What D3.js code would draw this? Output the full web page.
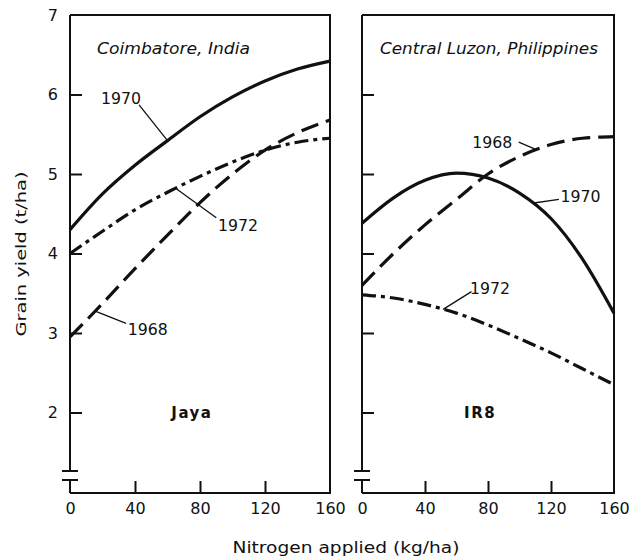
<!DOCTYPE html>
<html>
<head>
<meta charset="utf-8">
<script src="https://cdn.jsdelivr.net/npm/d3@7"></script>
<style>
  html, body { margin: 0; padding: 0; background: #fff; }
  svg { display: block; }
  text { font-family: "DejaVu Sans", "Liberation Sans", sans-serif; fill: #111; }
</style>
</head>
<body>
<svg id="chart" width="629" height="557"></svg>
<script>
// Nitrogen rates (kg/ha) at which each response curve is read
const nitrogen = [0, 20, 40, 60, 80, 100, 120, 140, 160];

// Grain yield (t/ha), Jaya at Coimbatore, India
const jaya1968 = [2.95, 3.37, 3.81, 4.23, 4.64, 5.00, 5.30, 5.52, 5.68];
const jaya1970 = [4.30, 4.75, 5.11, 5.42, 5.72, 5.97, 6.17, 6.32, 6.42];
const jaya1972 = [4.00, 4.28, 4.55, 4.77, 4.97, 5.15, 5.30, 5.40, 5.45];

// Grain yield (t/ha), IR8 in Central Luzon, Philippines
const ir8_1968 = [3.60, 4.00, 4.36, 4.68, 5.00, 5.22, 5.37, 5.45, 5.47];
const ir8_1970 = [4.38, 4.70, 4.92, 5.01, 4.95, 4.76, 4.44, 3.93, 3.25];
const ir8_1972 = [3.48, 3.44, 3.36, 3.25, 3.10, 2.93, 2.75, 2.55, 2.35];

// Axis ticks
const xTicks = [0, 40, 80, 120, 160];
const yTicks = [2, 3, 4, 5, 6, 7];

const svg = d3.select("#chart");
const plotTop = 15, plotBottom = 492;
const y = d3.scaleLinear().domain([1, 7]).range([plotBottom, plotTop]);

const dashFor = { "1968": "18 8", "1970": null, "1972": "14 5 4 5" };

const panels = [
  {
    x0: 70, x1: 330, title: "Coimbatore, India", titleX: 97, titleLen: 153,
    variety: "Jaya", showYLabels: true,
    series: [
      { year: "1968", values: jaya1968 },
      { year: "1970", values: jaya1970 },
      { year: "1972", values: jaya1972 }
    ],
    // year label placement: text anchor (N, yield) and leader target N on the curve
    notes: [
      { year: "1970", tx: 19, ty: 5.95, from: [42.5, 5.87], to: 60 },
      { year: "1972", tx: 91, ty: 4.36, from: [90, 4.45], to: 65 },
      { year: "1968", tx: 35.5, ty: 3.05, from: [34.5, 3.12], to: 15.5 }
    ]
  },
  {
    x0: 362, x1: 614, title: "Central Luzon, Philippines", titleX: 380, titleLen: 218,
    variety: "IR8", showYLabels: false,
    series: [
      { year: "1968", values: ir8_1968 },
      { year: "1970", values: ir8_1970 },
      { year: "1972", values: ir8_1972 }
    ],
    notes: [
      { year: "1968", tx: 70, ty: 5.40, from: [99.5, 5.40], to: 111 },
      { year: "1970", tx: 126, ty: 4.72, from: [125, 4.68], to: 108 },
      { year: "1972", tx: 68.5, ty: 3.56, from: [69.5, 3.52], to: 51.5 }
    ]
  }
];

panels.forEach(p => {
  const x = d3.scaleLinear().domain([0, 160]).range([p.x0, p.x1]);
  const g = svg.append("g");

  // frame: top, right and bottom edges
  g.append("path")
    .attr("d", `M${p.x0},${plotTop}H${p.x1}V${plotBottom + 1}H${p.x0}`)
    .attr("fill", "none").attr("stroke", "#111").attr("stroke-width", 2);

  // left axis line with a scale break near the origin
  const brk1 = 471, brk2 = 480;
  g.append("path")
    .attr("d", `M${p.x0},${plotTop}V${brk1}M${p.x0},${brk2}V${plotBottom + 1}`)
    .attr("fill", "none").attr("stroke", "#111").attr("stroke-width", 2);
  g.append("path")
    .attr("d", `M${p.x0 - 8},${brk1}h16M${p.x0 - 8},${brk2}h16`)
    .attr("fill", "none").attr("stroke", "#111").attr("stroke-width", 2);

  // y ticks (inward)
  const yAxis = d3.axisLeft(y).tickValues(yTicks)
    .tickSizeInner(-12).tickSizeOuter(0).tickPadding(12)
    .tickFormat(p.showYLabels ? d3.format("d") : () => "");
  const ya = g.append("g").attr("transform", `translate(${p.x0},0)`).call(yAxis);
  ya.select(".domain").remove();
  ya.selectAll(".tick line").attr("stroke", "#111").attr("stroke-width", 2);
  ya.selectAll(".tick").filter(d => d === 7).select("line").remove();
  ya.selectAll("text").attr("font-size", 16).attr("font-family", "DejaVu Sans").attr("fill", "#111");

  // x ticks (inward)
  const xAxis = d3.axisBottom(x).tickValues(xTicks)
    .tickSizeInner(-12).tickSizeOuter(0).tickPadding(10)
    .tickFormat(d3.format("d"));
  const xa = g.append("g").attr("transform", `translate(0,${plotBottom + 1})`).call(xAxis);
  xa.select(".domain").remove();
  xa.selectAll(".tick line").attr("stroke", "#111").attr("stroke-width", 2);
  xa.selectAll(".tick").filter(d => d === 0 || d === 160).select("line").remove();
  xa.selectAll("text").attr("font-size", 16).attr("font-family", "DejaVu Sans").attr("fill", "#111");

  // response curves
  const line = d3.line()
    .x((d, i) => x(nitrogen[i]))
    .y(d => y(d))
    .curve(d3.curveMonotoneX);
  p.series.forEach(s => {
    g.append("path")
      .datum(s.values)
      .attr("d", line)
      .attr("fill", "none")
      .attr("stroke", "#111")
      .attr("stroke-width", 3.2)
      .attr("stroke-dasharray", dashFor[s.year]);
  });

  // year labels with leader lines to their curves
  p.notes.forEach(n => {
    const s = p.series.find(d => d.year === n.year);
    const vy = d3.scaleLinear().domain(nitrogen).range(s.values);
    g.append("line")
      .attr("x1", x(n.from[0])).attr("y1", y(n.from[1]))
      .attr("x2", x(n.to)).attr("y2", y(vy(n.to)))
      .attr("stroke", "#111").attr("stroke-width", 1.3);
    g.append("text")
      .attr("x", x(n.tx)).attr("y", y(n.ty))
      .attr("dy", "0.36em")
      .attr("font-size", 16)
      .attr("textLength", 40).attr("lengthAdjust", "spacingAndGlyphs")
      .text(n.year);
  });

  // site name
  g.append("text")
    .attr("x", p.titleX).attr("y", 49).attr("dy", "0.36em")
    .attr("font-size", 15).attr("font-style", "italic")
    .attr("textLength", p.titleLen).attr("lengthAdjust", "spacingAndGlyphs")
    .text(p.title);

  // variety name
  g.append("text")
    .attr("x", x(75)).attr("y", y(2)).attr("dy", "0.36em")
    .attr("text-anchor", "middle")
    .attr("font-size", 15).attr("font-weight", "bold")
    .attr("letter-spacing", 1.5)
    .text(p.variety);
});

// axis titles
svg.append("text")
  .attr("x", 346).attr("y", 548).attr("dy", "0.36em")
  .attr("text-anchor", "middle").attr("font-size", 15)
  .attr("textLength", 227).attr("lengthAdjust", "spacingAndGlyphs")
  .text("Nitrogen applied (kg/ha)");

svg.append("text")
  .attr("transform", "translate(21,254) rotate(-90)")
  .attr("dy", "0.36em")
  .attr("text-anchor", "middle").attr("font-size", 14)
  .attr("textLength", 165).attr("lengthAdjust", "spacingAndGlyphs")
  .text("Grain yield (t/ha)");
</script>
</body>
</html>
